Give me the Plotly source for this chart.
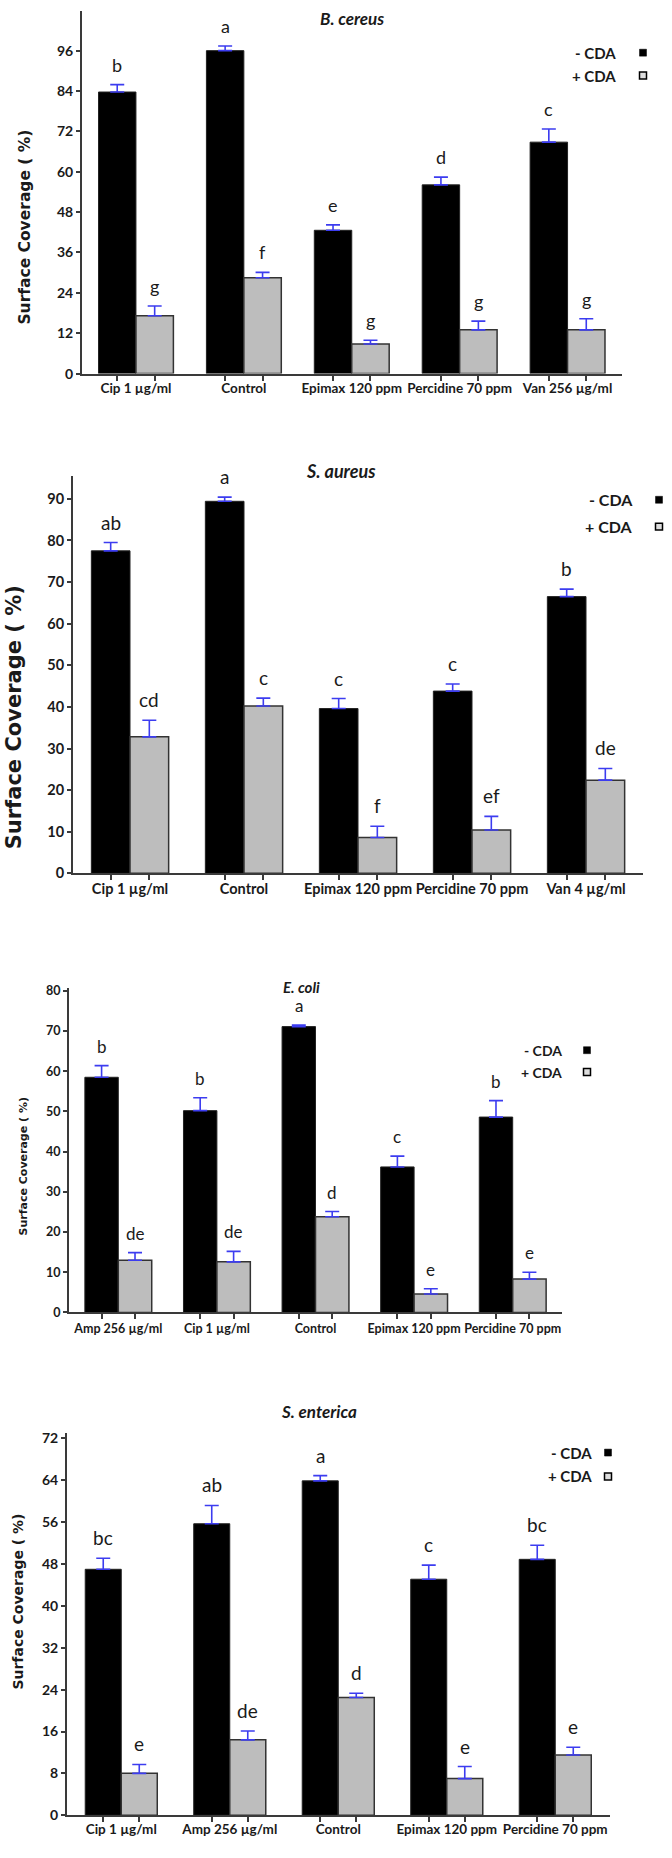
import plotly.graph_objects as go

# ---------------- DATA ----------------
bc_cats = ["Cip 1 µg/ml", "Control", "Epimax 120 ppm", "Percidine 70 ppm", "Van 256 µg/ml"]
bc_minus = [83.7, 96.0, 42.6, 56.1, 68.8]
bc_minus_err = [2.2, 1.4, 1.6, 2.3, 3.9]
bc_plus = [17.2, 28.5, 8.8, 13.0, 13.0]
bc_plus_err = [2.9, 1.6, 1.1, 2.6, 3.3]
bc_minus_let = ["b", "a", "e", "d", "c"]
bc_plus_let = ["g", "f", "g", "g", "g"]

sa_cats = ["Cip 1 µg/ml", "Control", "Epimax 120 ppm", "Percidine 70 ppm", "Van 4 µg/ml"]
sa_minus = [77.5, 89.4, 39.6, 43.8, 66.5]
sa_minus_err = [2.0, 1.0, 2.4, 1.7, 1.8]
sa_plus = [32.8, 40.2, 8.6, 10.4, 22.4]
sa_plus_err = [4.0, 1.9, 2.7, 3.3, 2.8]
sa_minus_let = ["ab", "a", "c", "c", "b"]
sa_plus_let = ["cd", "c", "f", "ef", "de"]

ec_cats = ["Amp 256 µg/ml", "Cip 1 µg/ml", "Control", "Epimax 120 ppm", "Percidine 70 ppm"]
ec_minus = [58.5, 50.2, 71.1, 36.2, 48.6]
ec_minus_err = [2.9, 3.2, 0.4, 2.7, 4.1]
ec_plus = [13.0, 12.6, 23.8, 4.6, 8.3]
ec_plus_err = [1.9, 2.6, 1.3, 1.3, 1.7]
ec_minus_let = ["b", "b", "a", "c", "b"]
ec_plus_let = ["de", "de", "d", "e", "e"]

se_cats = ["Cip 1 µg/ml", "Amp 256 µg/ml", "Control", "Epimax 120 ppm", "Percidine 70 ppm"]
se_minus = [47.0, 55.7, 63.9, 45.1, 48.9]
se_minus_err = [2.1, 3.5, 1.0, 2.7, 2.7]
se_plus = [8.0, 14.4, 22.5, 7.0, 11.5]
se_plus_err = [1.7, 1.7, 0.8, 2.3, 1.5]
se_minus_let = ["bc", "ab", "a", "c", "bc"]
se_plus_let = ["e", "de", "d", "e", "e"]

titles = ["B. cereus", "S. aureus", "E. coli", "S. enterica"]
series_names = ["- CDA", "+ CDA"]
y_title = "Surface Coverage ( %)"

# ---------------- LAYOUT / STYLE ----------------
W, H = 672, 1858
def px(x):
    return x / W
def py(y):
    return 1 - y / H

panels = [
    dict(cats=bc_cats, m=bc_minus, me=bc_minus_err, p=bc_plus, pe=bc_plus_err,
         ml=bc_minus_let, pl=bc_plus_let,
         x0=82, x1=621.5, ytop=7, ybot=372, ymax=107.8, dtick=12,
         bw=0.347, tick_fs=14, xlab_fs=13.5, xlab_off=1, let_fs=18,
         ytitle_fs=15.5, ytitle_x=25, ytitle_y=225,
         title_x=352, title_y=15, title_fs=17,
         leg_xr=618, leg_y1=49, leg_y2=72, leg_sq=643, leg_fs=15),
    dict(cats=sa_cats, m=sa_minus, me=sa_minus_err, p=sa_plus, pe=sa_plus_err,
         ml=sa_minus_let, pl=sa_plus_let,
         x0=73, x1=643, ytop=475, ybot=875, ymax=95.5, dtick=10,
         bw=0.339, tick_fs=14.5, xlab_fs=14.5, xlab_off=1, let_fs=19,
         ytitle_fs=21, ytitle_x=14, ytitle_y=718,
         title_x=341, title_y=470, title_fs=18,
         leg_xr=635, leg_y1=499, leg_y2=526, leg_sq=659, leg_fs=16),
    dict(cats=ec_cats, m=ec_minus, me=ec_minus_err, p=ec_plus, pe=ec_plus_err,
         ml=ec_minus_let, pl=ec_plus_let,
         x0=69, x1=562, ytop=990, ybot=1317, ymax=80.8, dtick=10,
         bw=0.339, tick_fs=12.5, xlab_fs=12.5, xlab_off=4, let_fs=17,
         ytitle_fs=11, ytitle_x=23, ytitle_y=1170,
         title_x=301, title_y=989, title_fs=15,
         leg_xr=564, leg_y1=1053, leg_y2=1075, leg_sq=587, leg_fs=14),
    dict(cats=se_cats, m=se_minus, me=se_minus_err, p=se_plus, pe=se_plus_err,
         ml=se_minus_let, pl=se_plus_let,
         x0=67, x1=609.5, ytop=1438, ybot=1823, ymax=73.1, dtick=8,
         bw=0.332, tick_fs=14, xlab_fs=13.5, xlab_off=1, let_fs=19,
         ytitle_fs=14, ytitle_x=18, ytitle_y=1608,
         title_x=319, title_y=1417, title_fs=17,
         leg_xr=594, leg_y1=1458, leg_y2=1482, leg_sq=608, leg_fs=15),
]

AX = "#3a3a3a"
ERR = "#3c3cf0"
TXT = "#1a1a1a"
GRAY = "#bdbdbd"

fig = go.Figure()
annotations = []
shapes = []

for k, P in enumerate(panels):
    n = k + 1
    xa = "x" if n == 1 else f"x{n}"
    ya = "y" if n == 1 else f"y{n}"
    idx = list(range(len(P["cats"])))
    bw = P["bw"]

    fig.add_trace(go.Bar(
        x=idx, y=P["m"], xaxis=xa, yaxis=ya, width=bw, offset=-bw,
        marker=dict(color="black", line=dict(color="#222222", width=1)),
        error_y=dict(type="data", symmetric=False, array=P["me"],
                     arrayminus=[0] * len(idx), color=ERR, thickness=1.6, width=7),
        name=series_names[0], showlegend=False))
    fig.add_trace(go.Bar(
        x=idx, y=P["p"], xaxis=xa, yaxis=ya, width=bw, offset=0,
        marker=dict(color=GRAY, line=dict(color="#333333", width=1.5)),
        error_y=dict(type="data", symmetric=False, array=P["pe"],
                     arrayminus=[0] * len(idx), color=ERR, thickness=1.6, width=7),
        name=series_names[1], showlegend=False))

    # significance letters
    for i in idx:
        annotations.append(dict(x=i - bw / 2, y=P["m"][i] + P["me"][i], xref=xa, yref=ya,
                                text=P["ml"][i], showarrow=False, yanchor="bottom", yshift=8,
                                borderpad=0,
                                font=dict(family="Lato", size=P["let_fs"], color=TXT)))
        annotations.append(dict(x=i + bw / 2, y=P["p"][i] + P["pe"][i], xref=xa, yref=ya,
                                text=P["pl"][i], showarrow=False, yanchor="bottom", yshift=8,
                                borderpad=0,
                                font=dict(family="Lato", size=P["let_fs"], color=TXT)))

    minor_vals = []
    for i in idx:
        minor_vals += [i - bw / 2, i + bw / 2]

    xaxis = dict(domain=[px(P["x0"]), px(P["x1"])], anchor=ya, range=[-0.5, len(idx) - 0.5],
                 tickmode="array", tickvals=idx, ticktext=P["cats"], ticks="", tickangle=0,
                 showline=True, linecolor=AX, linewidth=2, showgrid=False, zeroline=False,
                 tickfont=dict(family="Lato", size=P["xlab_fs"], color=TXT, weight="bold"),
                 ticklabelstandoff=P["xlab_off"],
                 minor=dict(tickmode="array", tickvals=minor_vals, ticks="outside",
                            ticklen=5, tickwidth=1.5, tickcolor=AX, showgrid=False),
                 fixedrange=True)
    yaxis = dict(domain=[py(P["ybot"]), py(P["ytop"])], anchor=xa, range=[0, P["ymax"]],
                 tickmode="linear", tick0=0, dtick=P["dtick"],
                 ticks="outside", ticklen=4, tickwidth=1.5, tickcolor=AX,
                 showline=True, linecolor=AX, linewidth=2, showgrid=False, zeroline=False,
                 tickfont=dict(family="Lato", size=P["tick_fs"], color=TXT, weight="bold"),
                 fixedrange=True)
    fig.layout["xaxis" if n == 1 else f"xaxis{n}"] = xaxis
    fig.layout["yaxis" if n == 1 else f"yaxis{n}"] = yaxis

    # y-axis title
    annotations.append(dict(x=px(P["ytitle_x"]), y=py(P["ytitle_y"]),
                            xref="paper", yref="paper", text=y_title, textangle=-90,
                            showarrow=False, xanchor="center", yanchor="middle",
                            font=dict(family="DejaVu Sans", size=P["ytitle_fs"], color=TXT,
                                      weight="bold")))
    # panel title
    annotations.append(dict(x=px(P["title_x"]), y=py(P["title_y"]), xref="paper", yref="paper",
                            text=titles[k], showarrow=False, xanchor="center", yanchor="middle",
                            borderpad=0,
                            font=dict(family="Lato", size=P["title_fs"], color=TXT,
                                      weight="bold", style="italic")))
    # legend (text then square)
    for j, (yy, nm) in enumerate([(P["leg_y1"], series_names[0]), (P["leg_y2"], series_names[1])]):
        annotations.append(dict(x=px(P["leg_xr"]), y=py(yy), xref="paper", yref="paper",
                                text=nm, showarrow=False, xanchor="right", yanchor="middle",
                                font=dict(family="Lato", size=P["leg_fs"], color=TXT,
                                          weight="bold")))
        s = 3.5
        shapes.append(dict(type="rect", xref="paper", yref="paper",
                           x0=px(P["leg_sq"] - s), x1=px(P["leg_sq"] + s),
                           y0=py(yy + s), y1=py(yy - s),
                           fillcolor="black" if j == 0 else "#dddddd",
                           line=dict(color="black", width=1.5 if j == 1 else 0.5)))

fig.update_layout(width=W, height=H, margin=dict(l=0, r=0, t=0, b=0),
                  paper_bgcolor="white", plot_bgcolor="white",
                  barmode="overlay", showlegend=False,
                  annotations=annotations, shapes=shapes)

fig.write_html("out.html", config={"displayModeBar": False},
               post_script="document.body.style.margin='0';document.body.style.overflow='hidden';")
